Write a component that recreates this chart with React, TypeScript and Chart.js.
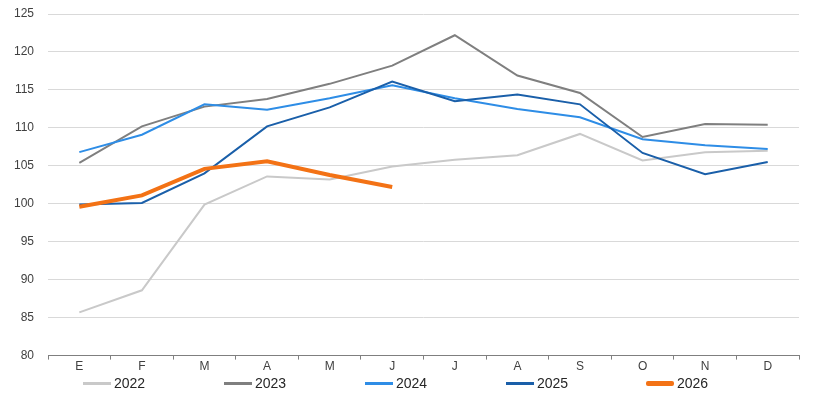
import React, { useEffect, useRef } from "react";
import { Chart, registerables } from "chart.js";

Chart.register(...registerables);

const months = ["E", "F", "M", "A", "M", "J", "J", "A", "S", "O", "N", "D"];
const years = ["2022", "2023", "2024", "2025", "2026"];
const v2022 = [85.7, 88.6, 99.9, 103.6, 103.2, 104.9, 105.8, 106.4, 109.2, 105.7, 106.8, 107.0];
const v2023 = [105.4, 110.2, 112.8, 113.8, 115.8, 118.2, 122.2, 116.9, 114.6, 108.8, 110.5, 110.4];
const v2024 = [106.8, 109.1, 113.1, 112.4, 113.9, 115.6, 113.9, 112.5, 111.4, 108.5, 107.7, 107.2];
const v2025 = [99.9, 100.1, 104.0, 110.2, 112.7, 116.1, 113.5, 114.4, 113.1, 106.7, 103.9, 105.5];
const v2026 = [99.6, 101.1, 104.6, 105.6, 103.8, 102.2];

const seriesValues = [v2022, v2023, v2024, v2025, v2026];
const colors = ["#c9c9c9", "#7f7f7f", "#2e8de6", "#1a5fa9", "#f37215"];
const widths = [2, 2, 2, 2, 4];
const legendLeft = [83, 224, 365, 506, 646];

export default function App() {
  const ref = useRef<HTMLCanvasElement | null>(null);
  useEffect(() => {
    if (!ref.current) return;
    const chart = new Chart(ref.current, {
      type: "line",
      data: {
        labels: months,
        datasets: years.map((y, i) => ({
          label: y,
          data: seriesValues[i],
          borderColor: colors[i],
          backgroundColor: colors[i],
          borderWidth: widths[i],
          pointRadius: 0,
          tension: 0,
          fill: false,
          order: 4 - i,
        })),
      },
      options: {
        animation: false,
        responsive: false,
        maintainAspectRatio: false,
        layout: { padding: { left: 0, right: 21, top: 0, bottom: 28 } },
        plugins: { legend: { display: false }, tooltip: { enabled: false } },
        scales: {
          x: {
            offset: true,
            grid: {
              offset: true,
              drawOnChartArea: false,
              drawTicks: true,
              tickLength: 4,
              color: "#7f7f7f",
            },
            border: { display: true, color: "#7f7f7f", width: 1 },
            ticks: {
              color: "#404040",
              padding: 0,
              font: { family: "Liberation Sans", size: 12 },
              maxRotation: 0,
            },
          },
          y: {
            min: 80,
            max: 125,
            afterFit: (scale: any) => {
              scale.paddingTop = 14;
            },
            ticks: {
              stepSize: 5,
              color: "#404040",
              padding: 14,
              font: { family: "Liberation Sans", size: 12 },
            },
            grid: { color: "#d9d9d9", lineWidth: 1, drawTicks: false },
            border: { display: false },
          },
        },
      },
    });
    return () => chart.destroy();
  }, []);

  return (
    <div style={{ position: "absolute", left: 0, top: 0, width: 820, height: 402, background: "#fff" }}>
      <canvas ref={ref} width={820} height={402} style={{ position: "absolute", left: 0, top: 0 }} />
      {years.map((y, i) => (
        <div
          key={y}
          style={{
            position: "absolute",
            left: legendLeft[i],
            top: 374,
            height: 18,
            display: "flex",
            alignItems: "center",
            fontFamily: "Liberation Sans",
            fontSize: 14,
            color: "#262626",
          }}
        >
          <div style={{ width: 28, height: i === 4 ? 5 : 3, background: colors[i], borderRadius: i === 4 ? 2 : 0 }} />
          <span style={{ marginLeft: 3 }}>{y}</span>
        </div>
      ))}
    </div>
  );
}
